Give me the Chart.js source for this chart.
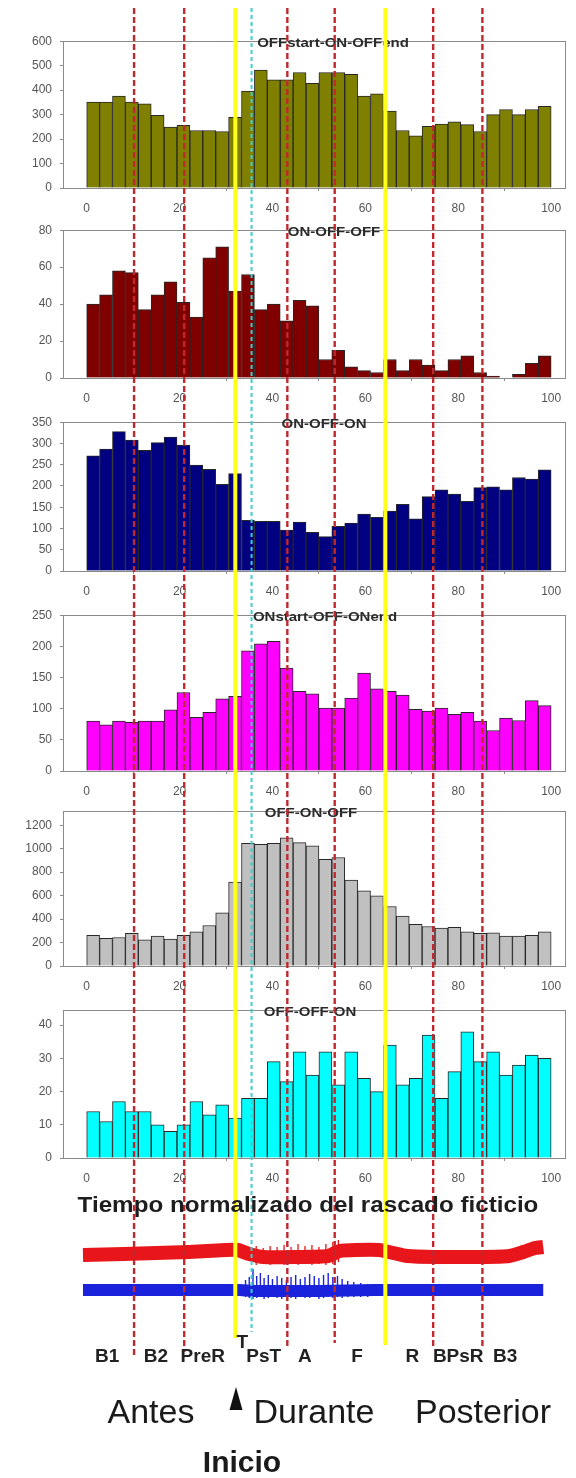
<!DOCTYPE html>
<html>
<head>
<meta charset="utf-8">
<script src="https://cdn.jsdelivr.net/npm/chart.js@4.4.1/dist/chart.umd.min.js"></script>
<style>
  html, body { margin: 0; padding: 0; background: #fff; }
  body { position: relative; width: 576px; height: 1478px; overflow: hidden; font-family: "Liberation Sans", Arial, sans-serif; }
  canvas { position: absolute; left: 0; }
</style>
</head>
<body>
<svg id="arrow" width="576" height="1478" style="position:absolute;left:0;top:0;z-index:4;pointer-events:none">
  <polygon points="236,1387 229.5,1410 242.5,1410" fill="#111"/>
</svg>
<script>
// ---- data ----
const binCount = 36;               // histogram bins over 0..100
const xTicks = [0, 20, 40, 60, 80, 100];

const panelTitles = ['OFFstart-ON-OFFend', 'ON-OFF-OFF', 'ON-OFF-ON', 'ONstart-OFF-ONend', 'OFF-ON-OFF', 'OFF-OFF-ON'];

const offStartOnOffEnd = [351, 351, 376, 351, 344, 297, 249, 256, 235, 235, 231, 289, 396, 482, 442, 442, 472, 428,
                          472, 472, 465, 376, 385, 314, 235, 213, 252, 261, 270, 259, 231, 300, 321, 300, 321, 334];
const onOffOff = [40, 45, 58, 57, 37, 45, 52, 41, 33, 65, 71, 47, 56, 37, 40, 31, 42, 39,
                  10, 15, 6, 4, 3, 10, 4, 10, 7, 4, 10, 12, 3, 1, 0, 2, 8, 12];
const onOffOn = [271, 287, 328, 308, 284, 302, 315, 296, 249, 239, 204, 229, 119, 117, 117, 96, 115, 91,
                 81, 105, 113, 134, 126, 141, 157, 123, 175, 191, 181, 164, 196, 198, 191, 220, 216, 238];
const onStartOffOnEnd = [80, 74, 80, 78, 80, 80, 98, 126, 86, 94, 116, 120, 193, 204, 208, 165, 128, 124,
                         101, 101, 117, 157, 132, 128, 122, 99, 96, 101, 91, 94, 80, 65, 85, 81, 113, 105];
const offOnOff = [262, 235, 243, 278, 224, 256, 229, 262, 291, 345, 453, 715, 1046, 1038, 1046, 1092, 1052, 1025,
                  909, 925, 733, 642, 599, 507, 426, 356, 337, 324, 329, 291, 278, 283, 256, 256, 261, 291];
const offOffOn = [14, 11, 17, 14, 14, 10, 8, 10, 17, 13, 16, 12, 18, 18, 29, 23, 32, 25,
                  32, 22, 32, 24, 20, 34, 22, 24, 37, 18, 26, 38, 29, 32, 25, 28, 31, 30];

const yTicks1 = [0, 100, 200, 300, 400, 500, 600];
const yTicks2 = [0, 20, 40, 60, 80];
const yTicks3 = [0, 50, 100, 150, 200, 250, 300, 350];
const yTicks4 = [0, 50, 100, 150, 200, 250];
const yTicks5 = [0, 200, 400, 600, 800, 1000, 1200];
const yTicks6 = [0, 10, 20, 30, 40];
const yMaxes = [600, 80, 350, 250, 1320, 44.5];

// event markers (normalised time)
const redMarkers = [10.2, 21.0, 43.2, 53.4, 74.6, 85.2];
const yellowMarkers = [32.0, 64.3];
const cyanMarkers = [35.5];

// phase labels under the traces
const phaseLabels = ['B1', 'B2', 'PreR', 'T', 'PsT', 'A', 'F', 'R', 'BPsR', 'B3'];
const phaseAt = [4.4, 14.9, 25.0, 33.5, 38.1, 47.0, 58.2, 70.1, 80.0, 90.1];

// raw traces (rough envelope, arbitrary units)
const redTraceX = [-0.8, 8, 15, 22, 30, 32.5, 35, 38, 45, 52, 54.5, 58, 63, 66, 69, 75, 85, 91, 94, 96.5, 98.3];
const redTraceY = [15, 16, 17, 18, 20, 20, 16, 13, 13, 14, 19, 20, 20, 17, 14, 13, 13, 14, 18, 22, 23];
const redSpikeX = [36.5, 38.0, 39.5, 41.0, 42.5, 44.0, 45.5, 47.0, 48.5, 50.0, 51.5, 53.0, 54.2];
const redSpikeTop = [24, 22, 24, 23, 25, 23, 26, 24, 25, 23, 26, 28, 30];
const redSpikeBottom = [5, 6, 5, 6, 5, 6, 5, 6, 5, 6, 5, 6, 8];
const blueTraceX = [-0.8, 20, 33, 36, 50, 62, 80, 98.3];
const blueTraceY = [-20, -20, -20, -21, -21, -20, -20, -20];
const blueSpikeX = [34.2, 35.0, 35.8, 36.6, 37.4, 38.2, 39.1, 40.0, 41.0, 42.0, 43.0, 44.0, 45.0, 46.0,
                    47.0, 48.0, 49.0, 50.0, 51.0, 52.0, 53.0, 54.0, 55.0, 56.2, 57.5, 59.0, 60.5, 62.0];
const blueSpikeTop = [-10, -7, 1, -6, -3, -8, -5, -9, -6, -8, -10, -7, -5, -9,
                      -7, -4, -6, -8, -5, -3, -7, -6, -9, -11, -12, -13, -14, -15];
const blueSpikeBottom = [-27, -28, -29, -28, -27, -29, -28, -27, -28, -29, -27, -28, -29, -27,
                         -28, -28, -27, -29, -28, -27, -28, -27, -28, -27, -27, -27, -27, -26];

// ---- layout / style ----
const PAGE_W = 576, PAGE_H = 1478;
const PLOT_LEFT = 63, PLOT_RIGHT = 566;
const X_MIN = -5.1, X_MAX = 103.2;
const frameTops = [33, 222, 414, 607, 803, 1002];
const frameBases = [188, 378, 571, 771, 966, 1158];
const barColors = ['#808000', '#800000', '#000080', '#ff00ff', '#c0c0c0', '#00ffff'];
const titleCenters = [333, 334, 324, 325, 311, 310];
const tickColor = '#555';
const FONT = '"Liberation Sans", Arial, sans-serif';

const series = [offStartOnOffEnd, onOffOff, onOffOn, onStartOffOnEnd, offOnOff, offOffOn];
const yTicks = [yTicks1, yTicks2, yTicks3, yTicks4, yTicks5, yTicks6];
const binCenters = Array.from({length: binCount}, (_, k) => (k + 0.5) * 100 / binCount);

Chart.defaults.font.family = FONT;

const framePlugin = {
  id: 'frame',
  afterDatasetsDraw(chart) {
    const {ctx, chartArea: a} = chart;
    ctx.save();
    ctx.strokeStyle = '#8a8a8a';
    ctx.lineWidth = 1;
    ctx.strokeRect(Math.round(a.left) + 0.5, Math.round(a.top) + 0.5, Math.round(a.width) - 1, Math.round(a.height));
    ctx.restore();
  }
};

function placeText(txt, cx, baseline, size, weight, stretch, z, color) {
  const el = document.createElement('div');
  el.textContent = txt;
  el.style.cssText = 'position:absolute;white-space:nowrap;left:' + cx + 'px;top:' + (baseline - 0.8465 * size) +
    'px;font:' + weight + ' ' + size + 'px ' + FONT + ';line-height:' + size + 'px;color:' + (color || '#1e1e1e') +
    ';transform:translateX(-50%) scaleX(' + stretch + ');z-index:' + z + ';';
  document.body.appendChild(el);
}

function addCanvas(top, height, z) {
  const cv = document.createElement('canvas');
  cv.width = PAGE_W;
  cv.height = height;
  cv.style.top = top + 'px';
  cv.style.zIndex = z;
  cv.style.pointerEvents = 'none';
  document.body.appendChild(cv);
  return cv;
}

// Histogram panels
const padTop = 7, axisH = 34;
series.forEach((vals, i) => {
  const h = frameBases[i] - frameTops[i] + padTop + axisH;
  const cv = addCanvas(frameTops[i] - padTop, h, 1);
  new Chart(cv, {
    type: 'bar',
    data: {
      datasets: [{
        data: vals.map((v, k) => ({x: binCenters[k], y: v})),
        backgroundColor: barColors[i],
        borderColor: '#262626',
        borderWidth: 1,
        barPercentage: 1,
        categoryPercentage: 1
      }]
    },
    options: {
      responsive: false,
      animation: false,
      devicePixelRatio: 1,
      layout: {padding: {top: padTop, left: 0, right: PAGE_W - PLOT_RIGHT, bottom: 0}},
      plugins: {legend: {display: false}, tooltip: {enabled: false}},
      scales: {
        x: {
          type: 'linear', min: X_MIN, max: X_MAX, offset: false,
          afterBuildTicks: s => { s.ticks = xTicks.map(v => ({value: v})); },
          afterFit: s => { s.height = axisH; },
          grid: {drawOnChartArea: false, tickLength: 3, color: '#8a8a8a'},
          border: {display: false},
          ticks: {padding: 10, color: tickColor, font: {size: 12}, maxRotation: 0, autoSkip: false,
                  callback: v => String(v)}
        },
        y: {
          min: 0, max: yMaxes[i],
          afterBuildTicks: s => { s.ticks = yTicks[i].map(v => ({value: v})); },
          afterFit: s => { s.width = PLOT_LEFT; },
          grid: {drawOnChartArea: false, tickLength: 3, color: '#8a8a8a'},
          border: {display: false},
          ticks: {padding: 8, color: tickColor, font: {size: 12}, autoSkip: false,
                  callback: v => String(v)}
        }
      }
    },
    plugins: [framePlugin]
  });
  placeText(panelTitles[i], titleCenters[i], frameTops[i] + 14.5, 12.5, 'bold', 1.2, 2, '#2b2b2b');
});

// Raw traces
const spikes = (xs, tops, bots) => xs.flatMap((x, k) => [{x, y: tops[k]}, {x, y: bots[k]}, {x, y: null}]);
new Chart(addCanvas(1230, 80, 2), {
  type: 'line',
  data: {
    datasets: [
      {data: spikes(redSpikeX, redSpikeTop, redSpikeBottom), borderColor: '#e8161b', borderWidth: 1.3},
      {data: redTraceX.map((x, k) => ({x, y: redTraceY[k]})), borderColor: '#e8161b', borderWidth: 14, tension: 0.2},
      {data: blueTraceX.map((x, k) => ({x, y: blueTraceY[k]})), borderColor: '#1a22dc', borderWidth: 12, tension: 0.2},
      {data: spikes(blueSpikeX, blueSpikeTop, blueSpikeBottom), borderColor: '#1a22dc', borderWidth: 1.4}
    ]
  },
  options: {
    responsive: false, animation: false, devicePixelRatio: 1,
    layout: {padding: {left: PLOT_LEFT, right: PAGE_W - PLOT_RIGHT, top: 0, bottom: 0}},
    elements: {point: {radius: 0}},
    plugins: {legend: {display: false}, tooltip: {enabled: false}},
    scales: {
      x: {type: 'linear', display: false, min: X_MIN, max: X_MAX},
      y: {display: false, min: -40, max: 40}
    }
  }
});

// Marker lines running over every panel
const LINE_TOP = 8;
const redBottoms = [1356, 1352, 1346, 1343, 1347, 1347];
const yellowBottoms = [1338, 1345];
const cyanBottoms = [1332];
const markerSets = [
  ...yellowMarkers.map((m, k) => ({data: [{x: m, y: LINE_TOP}, {x: m, y: yellowBottoms[k]}], borderColor: '#ffff1a', borderWidth: 4})),
  ...cyanMarkers.map((m, k) => ({data: [{x: m, y: LINE_TOP}, {x: m, y: cyanBottoms[k]}], borderColor: '#3ccfcf', borderWidth: 2, borderDash: [4, 3]})),
  ...redMarkers.map((m, k) => ({data: [{x: m, y: LINE_TOP}, {x: m, y: redBottoms[k]}], borderColor: '#c0282e', borderWidth: 2.4, borderDash: [6, 3]}))
];
const overlay = new Chart(addCanvas(0, PAGE_H, 3), {
  type: 'line',
  data: {datasets: markerSets},
  options: {
    responsive: false, animation: false, devicePixelRatio: 1,
    layout: {padding: {left: PLOT_LEFT, right: PAGE_W - PLOT_RIGHT, top: 0, bottom: 0}},
    elements: {point: {radius: 0}},
    plugins: {legend: {display: false}, tooltip: {enabled: false}},
    scales: {
      x: {type: 'linear', display: false, min: X_MIN, max: X_MAX},
      y: {display: false, min: 0, max: PAGE_H, reverse: true}
    }
  }
});

// Text below the panels
placeText('Tiempo normalizado del rascado ficticio', 307.5, 1213, 22, 'bold', 1.1, 4);
phaseLabels.forEach((lab, k) => {
  const px = overlay.scales.x.getPixelForValue(phaseAt[k]);
  placeText(lab, px, lab === 'T' ? 1348 : 1362, 19, 'bold', 1, 4, '#222');
});
placeText('Antes', 151, 1423, 34, 'normal', 1, 4, '#1a1a1a');
placeText('Durante', 314, 1423, 34, 'normal', 1, 4, '#1a1a1a');
placeText('Posterior', 483, 1423, 34, 'normal', 1, 4, '#1a1a1a');
placeText('Inicio', 242, 1472, 30, 'bold', 1, 4, '#1a1a1a');
</script>
</body>
</html>
